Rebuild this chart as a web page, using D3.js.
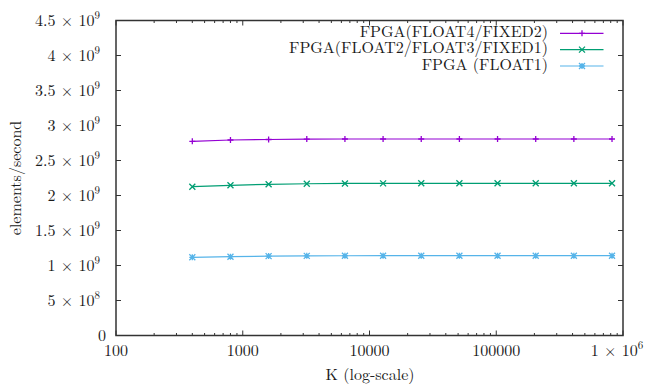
<!DOCTYPE html>
<html><head><meta charset="utf-8">
<script src="https://cdn.jsdelivr.net/npm/d3@7"></script>
<style>body{margin:0;background:#fff}svg{display:block}</style>
</head><body><svg id="c" width="649" height="392"></svg>
<script>
const kValues = [400, 800, 1600, 3200, 6400, 12800, 25600, 51200, 102400, 204800, 409600, 819200];
const float4 = [2.774e9, 2.793e9, 2.800e9, 2.806e9, 2.807e9, 2.807e9, 2.807e9, 2.807e9, 2.807e9, 2.807e9, 2.807e9, 2.807e9];
const float2 = [2.126e9, 2.146e9, 2.160e9, 2.168e9, 2.172e9, 2.173e9, 2.174e9, 2.174e9, 2.174e9, 2.174e9, 2.174e9, 2.174e9];
const float1 = [1.117e9, 1.126e9, 1.134e9, 1.138e9, 1.139e9, 1.140e9, 1.140e9, 1.140e9, 1.140e9, 1.140e9, 1.140e9, 1.140e9];
const seriesNames = ["FPGA(FLOAT4/FIXED2)", "FPGA(FLOAT2/FLOAT3/FIXED1)", "FPGA (FLOAT1)"];
const yTicks = [0, 5e8, 1e9, 1.5e9, 2e9, 2.5e9, 3e9, 3.5e9, 4e9, 4.5e9];
const yTickLabels = [["0",""],["5 × 10","8"],["1 × 10","9"],["1.5 × 10","9"],["2 × 10","9"],["2.5 × 10","9"],["3 × 10","9"],["3.5 × 10","9"],["4 × 10","9"],["4.5 × 10","9"]];
const xTicks = [100, 1000, 10000, 100000, 1000000];
const xTickLabels = [["100",""],["1000",""],["10000",""],["100000",""],["1 × 10","6"]];

const FONT = "Latin Modern Roman";
const TXT = "#1a1a1a";
const colors = ["#9400d3", "#009e73", "#56b4e9"];
const data = [float4, float2, float1];
const svg = d3.select("#c");
const L = 116, R = 623, T = 20.5, B = 335.5;
const x = d3.scaleLog().domain([100, 1e6]).range([L, R]);
const y = d3.scaleLinear().domain([0, 4.5e9]).range([B, T]);
const axisCol = "#333";
const FS = 16;

const minor = [];
for (let d = 100; d < 1e6; d *= 10) for (let m = 2; m <= 9; m++) minor.push(d * m);

function txt(sel) {
  return sel.append("text").attr("font-family", FONT).attr("font-size", FS).attr("fill", TXT);
}
function labelWithSup(sel, parts) {
  sel.append("tspan").text(parts[0]);
  if (parts[1]) sel.append("tspan").attr("dy", -6.5).attr("font-size", 11).text(parts[1]);
}

const g = svg.append("g");
yTicks.forEach((v, i) => {
  const yy = y(v);
  g.append("line").attr("x1", L).attr("x2", L + 5).attr("y1", yy).attr("y2", yy).attr("stroke", axisCol);
  g.append("line").attr("x1", R).attr("x2", R - 5).attr("y1", yy).attr("y2", yy).attr("stroke", axisCol);
  const t = txt(g).attr("x", yTickLabels[i][1] ? 100 : 106).attr("y", yy + 5).attr("text-anchor", "end");
  labelWithSup(t, yTickLabels[i]);
});
xTicks.forEach((v, i) => {
  const xx = x(v);
  g.append("line").attr("x1", xx).attr("x2", xx).attr("y1", B).attr("y2", B - 5).attr("stroke", axisCol);
  g.append("line").attr("x1", xx).attr("x2", xx).attr("y1", T).attr("y2", T + 5).attr("stroke", axisCol);
  const t = txt(g).attr("x", xx + (xTickLabels[i][1] ? -6 : 0)).attr("y", 355.5).attr("text-anchor", "middle");
  labelWithSup(t, xTickLabels[i]);
});
minor.forEach(v => {
  const xx = x(v);
  g.append("line").attr("x1", xx).attr("x2", xx).attr("y1", B).attr("y2", B - 2.5).attr("stroke", axisCol);
  g.append("line").attr("x1", xx).attr("x2", xx).attr("y1", T).attr("y2", T + 2.5).attr("stroke", axisCol);
});
g.append("rect").attr("x", L).attr("y", T).attr("width", R - L).attr("height", B - T)
  .attr("fill", "none").attr("stroke", axisCol).attr("stroke-width", 1.5);

txt(svg).attr("x", 370).attr("y", 380).attr("text-anchor", "middle").text("K (log-scale)");
txt(svg).attr("transform", "translate(21," + ((T + B) / 2) + ") rotate(-90)").attr("text-anchor", "middle").text("elements/second");

function marker(sel, type, cx, cy, col) {
  const s = 3;
  const p = [];
  if (type === 0 || type === 2) p.push(`M${cx - s},${cy}H${cx + s}M${cx},${cy - s}V${cy + s}`);
  if (type === 1 || type === 2) p.push(`M${cx - s},${cy - s}L${cx + s},${cy + s}M${cx - s},${cy + s}L${cx + s},${cy - s}`);
  sel.append("path").attr("d", p.join("")).attr("stroke", col).attr("stroke-width", 1.3).attr("fill", "none");
}

const line = d3.line().x((d, i) => x(kValues[i])).y(d => y(d));
data.forEach((vals, si) => {
  svg.append("path").attr("d", line(vals)).attr("fill", "none").attr("stroke", colors[si]).attr("stroke-width", 1.2);
  vals.forEach((v, i) => marker(svg, si, x(kValues[i]), y(v), colors[si]));
});

const legY = [33.3, 49.6, 66];
seriesNames.forEach((n, i) => {
  txt(svg).attr("x", 548).attr("y", legY[i] + 3.7).attr("text-anchor", "end").text(n);
  svg.append("line").attr("x1", 560).attr("x2", 603.5).attr("y1", legY[i]).attr("y2", legY[i]).attr("stroke", colors[i]).attr("stroke-width", 1.2);
  marker(svg, i, 582, legY[i], colors[i]);
});
</script></body></html>
